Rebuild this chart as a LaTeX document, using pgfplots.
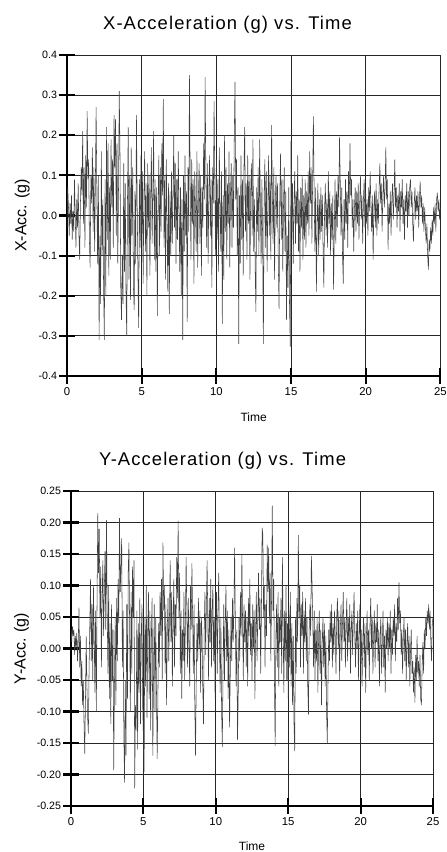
\documentclass[border=0pt]{standalone}
\usepackage{pgfplots}
\pgfplotsset{compat=1.18}
\usepackage{fontspec}
\setmainfont{Liberation Sans}
\pgfplotsset{accstyle/.style={
  scale only axis, axis lines=left,
  axis line style={-, line width=2pt, black},
  tick align=center, major tick length=11.5pt,
  tick style={line width=1.6pt, black},
  grid=major, major grid style={line width=0.6pt, black!85},
  xmin=0, xmax=25, xtick={0,5,10,15,20,25},
  /pgf/number format/assume math mode=true,
  xticklabel style={font=\fontsize{8.5}{10}\selectfont, anchor=north, inner sep=0pt, yshift=-3pt},
  yticklabel style={font=\fontsize{8}{9}\selectfont, anchor=east, inner sep=0pt, xshift=-1.5pt,
    /pgf/number format/fixed, /pgf/number format/fixed zerofill},
  every axis x label/.style={at={(axis description cs:0.5,-0.129)}, anchor=center, font=\fontsize{9}{10}\selectfont},
  xlabel=Time,
}}
\begin{document}
\begin{tikzpicture}
\useasboundingbox (0pt,0pt) rectangle (334.5pt,-639pt);
\node[anchor=base, font=\fontsize{13.8}{16}\selectfont\addfontfeatures{LetterSpace=6}] at (170.6pt,-22pt) {X-Acceleration (g) vs. Time};
\node[anchor=base, font=\fontsize{13.8}{16}\selectfont\addfontfeatures{LetterSpace=6}] at (166.9pt,-349.3pt) {Y-Acceleration (g) vs. Time};
\begin{axis}[accstyle, at={(50.25pt,-282pt)}, anchor=south west,
  width=280pt, height=240.75pt,
  ymin=-0.4, ymax=0.4, ytick={-0.4,-0.3,-0.2,-0.1,0,0.1,0.2,0.3,0.4},
  yticklabel style={/pgf/number format/precision=1},
  every axis y label/.style={at={(axis description cs:-0.12,0.5)}, rotate=90, anchor=center, font=\fontsize{12}{14}\selectfont},
  ylabel={X-Acc. (g)}]
\addplot[black!75, line width=0.4pt] coordinates {
(0,-0.03)(0.05,0.07)(0.1,0.02)(0.15,-0.05)(0.2,0.03)(0.25,-0.02)(0.3,0.05)(0.35,-0.06)(0.4,0.01)(0.45,-0.04)(0.5,0.09)(0.55,0)(0.6,-0.08)(0.65,0.04)(0.7,-0.03)(0.75,0.08)(0.8,-0.05)(0.85,-0.11)(0.9,0.03)(0.95,0.12)
(1,0.05)(1.05,0.21)(1.1,-0.02)(1.15,0.12)(1.2,-0.08)(1.25,0.15)(1.3,0.02)(1.35,0.26)(1.4,0.09)(1.45,0.14)(1.5,-0.06)(1.55,-0.13)(1.6,0.1)(1.65,0.03)(1.7,0.17)(1.75,-0.04)(1.8,0.12)(1.85,-0.09)(1.9,0.08)(1.95,0.27)
(2,0.05)(2.05,-0.12)(2.1,0.1)(2.15,-0.31)(2.2,-0.05)(2.25,-0.22)(2.3,0.16)(2.35,-0.1)(2.4,0.04)(2.45,-0.18)(2.5,-0.31)(2.55,0.09)(2.6,-0.2)(2.65,0.22)(2.7,-0.06)(2.75,0.18)(2.8,-0.15)(2.85,0.07)(2.9,-0.11)(2.95,0.19)
(3,0.02)(3.05,0.14)(3.1,-0.08)(3.15,0.25)(3.2,0.12)(3.25,0.24)(3.3,-0.05)(3.35,0.18)(3.4,-0.12)(3.45,0.07)(3.5,0.31)(3.55,0.15)(3.6,-0.18)(3.65,-0.26)(3.7,-0.1)(3.75,-0.22)(3.8,0.13)(3.85,-0.14)(3.9,0.08)(3.95,-0.19)
(4,-0.3)(4.05,0.04)(4.1,0.22)(4.15,-0.16)(4.2,0.1)(4.25,-0.21)(4.3,0.17)(4.35,-0.05)(4.4,0.12)(4.45,-0.18)(4.5,-0.235)(4.55,0.06)(4.6,-0.12)(4.65,0.25)(4.7,0.03)(4.75,-0.15)(4.8,-0.28)(4.85,0.09)(4.9,-0.08)(4.95,0.15)
(5,-0.06)(5.05,0.11)(5.1,-0.17)(5.15,0.05)(5.2,0.16)(5.25,-0.09)(5.3,0.08)(5.35,-0.2)(5.4,0.13)(5.45,-0.03)(5.5,0.1)(5.55,-0.15)(5.6,0.04)(5.65,0.17)(5.7,-0.07)(5.75,0.06)(5.8,0.21)(5.85,-0.11)(5.9,0.09)(5.95,-0.14)
(6,0.07)(6.05,-0.25)(6.1,0.03)(6.15,0.15)(6.2,-0.1)(6.25,0.12)(6.3,-0.04)(6.35,0.18)(6.4,0.05)(6.45,0.29)(6.5,-0.08)(6.55,0.1)(6.6,-0.16)(6.65,0.14)(6.7,-0.02)(6.75,-0.19)(6.8,0.08)(6.85,-0.245)(6.9,0.06)(6.95,-0.1)
(7,0.11)(7.05,-0.07)(7.1,0.05)(7.15,0.2)(7.2,-0.03)(7.25,0.13)(7.3,-0.12)(7.35,0.09)(7.4,-0.06)(7.45,0.16)(7.5,0.02)(7.55,-0.14)(7.6,0.07)(7.65,-0.2)(7.7,0.04)(7.75,-0.31)(7.8,0.1)(7.85,-0.09)(7.9,0.15)(7.95,-0.05)
(8,0.06)(8.05,-0.265)(8.1,0.12)(8.15,-0.04)(8.2,0.35)(8.25,0.08)(8.3,-0.11)(8.35,0.14)(8.4,-0.02)(8.45,0.09)(8.5,-0.17)(8.55,0.11)(8.6,0.02)(8.65,-0.09)(8.7,0.16)(8.75,-0.13)(8.8,0.05)(8.85,0.13)(8.9,-0.07)(8.95,0.1)
(9,-0.15)(9.05,0.07)(9.1,-0.03)(9.15,0.18)(9.2,0.04)(9.25,0.345)(9.3,0.1)(9.35,-0.08)(9.4,0.13)(9.45,-0.12)(9.5,0.06)(9.55,0.15)(9.6,-0.05)(9.65,0.09)(9.7,-0.18)(9.75,0.12)(9.8,0.03)(9.85,0.285)(9.9,0.07)(9.95,-0.1)
(10,0.14)(10.05,-0.06)(10.1,0.09)(10.15,-0.14)(10.2,0.17)(10.25,0.02)(10.3,-0.09)(10.35,0.11)(10.4,-0.27)(10.45,0.05)(10.5,-0.16)(10.55,0.2)(10.6,-0.04)(10.65,0.12)(10.7,-0.11)(10.75,0.08)(10.8,-0.02)(10.85,0.16)(10.9,-0.13)(10.95,0.06)
(11,0.13)(11.05,-0.08)(11.1,0.1)(11.15,-0.03)(11.2,0.19)(11.25,0.333)(11.3,0.04)(11.35,0.14)(11.4,-0.1)(11.45,0.07)(11.5,-0.32)(11.55,0.05)(11.6,-0.12)(11.65,0.15)(11.7,-0.06)(11.75,0.09)(11.8,-0.15)(11.85,0.12)(11.9,0.22)(11.95,-0.04)
(12,0.08)(12.05,-0.11)(12.1,0.15)(12.15,-0.02)(12.2,0.1)(12.25,-0.16)(12.3,0.06)(12.35,0.13)(12.4,-0.05)(12.45,0.19)(12.5,-0.09)(12.55,0.04)(12.6,-0.13)(12.65,-0.24)(12.7,0.07)(12.75,-0.04)(12.8,0.12)(12.85,-0.1)(12.9,0.19)(12.95,0.02)
(13,-0.12)(13.05,0.09)(13.1,-0.06)(13.15,-0.32)(13.2,0.05)(13.25,0.14)(13.3,-0.08)(13.35,0.11)(13.4,-0.14)(13.45,0.03)(13.5,0.15)(13.55,-0.05)(13.6,0.1)(13.65,-0.11)(13.7,0.225)(13.75,0.06)(13.8,-0.07)(13.85,0.12)(13.9,-0.16)(13.95,0.04)
(14,0.1)(14.05,-0.03)(14.1,0.08)(14.15,-0.12)(14.2,-0.233)(14.25,0.05)(14.3,0.155)(14.35,-0.06)(14.4,0.09)(14.45,-0.14)(14.5,0.03)(14.55,0.12)(14.6,-0.09)(14.65,0.06)(14.7,-0.26)(14.75,-0.05)(14.8,-0.18)(14.85,0.07)(14.9,-0.22)(14.95,-0.327)
(15,0.186)(15.05,-0.04)(15.1,0.08)(15.15,-0.12)(15.2,0.03)(15.25,0.11)(15.3,-0.07)(15.35,0.06)(15.4,-0.02)(15.45,0.15)(15.5,-0.09)(15.55,0.04)(15.6,-0.14)(15.65,0.07)(15.7,-0.03)(15.75,0.1)(15.8,-0.11)(15.85,0.05)(15.9,-0.06)(15.95,0.09)
(16,-0.08)(16.05,0.06)(16.1,-0.02)(16.15,0.11)(16.2,-0.05)(16.25,0.16)(16.3,0.03)(16.35,0.12)(16.4,-0.07)(16.45,0.09)(16.5,0.247)(16.55,0.05)(16.6,-0.09)(16.65,0.07)(16.7,-0.19)(16.75,-0.03)(16.8,0.08)(16.85,-0.1)(16.9,0.04)(16.95,-0.06)
(17,0.07)(17.05,-0.04)(17.1,0.05)(17.15,-0.09)(17.2,-0.18)(17.25,0.02)(17.3,0.08)(17.35,-0.05)(17.4,0.04)(17.45,-0.08)(17.5,0.11)(17.55,-0.02)(17.6,0.06)(17.65,-0.1)(17.7,0.03)(17.75,-0.06)(17.8,0.05)(17.85,-0.185)(17.9,-0.04)(17.95,0.09)
(18,-0.07)(18.05,0.06)(18.1,-0.03)(18.15,0.1)(18.2,0.02)(18.25,0.196)(18.3,0.08)(18.35,-0.05)(18.4,0.07)(18.45,-0.1)(18.5,-0.17)(18.55,0.04)(18.6,-0.06)(18.65,0.09)(18.7,-0.02)(18.75,0.06)(18.8,-0.08)(18.85,0.11)(18.9,0.03)(18.95,0.18)
(19,0.05)(19.05,0.09)(19.1,-0.03)(19.15,0.04)(19.2,-0.09)(19.25,0.02)(19.3,0.07)(19.35,-0.04)(19.4,0.06)(19.45,-0.02)(19.5,0.08)(19.55,-0.06)(19.6,0.03)(19.65,0.1)(19.7,-0.01)(19.75,0.05)(19.8,-0.07)(19.85,0.04)(19.9,0.09)(19.95,-0.03)
(20,0.06)(20.05,-0.02)(20.1,0.04)(20.15,-0.05)(20.2,0.07)(20.25,0.01)(20.3,0.11)(20.35,0.03)(20.4,-0.04)(20.45,0.05)(20.5,-0.11)(20.55,0.02)(20.6,0.06)(20.65,-0.03)(20.7,0.08)(20.75,-0.05)(20.8,0.04)(20.85,-0.02)(20.9,0.07)(20.95,0.13)
(21,0.03)(21.05,0.08)(21.1,-0.04)(21.15,0.05)(21.2,0.1)(21.25,0.02)(21.3,0.07)(21.35,0.17)(21.4,0.04)(21.45,0.09)(21.5,-0.085)(21.55,0.03)(21.6,-0.02)(21.65,0.06)(21.7,-0.05)(21.75,0.04)(21.8,0.08)(21.85,-0.01)(21.9,0.05)(21.95,0.14)
(22,0.02)(22.05,0.07)(22.1,-0.03)(22.15,0.05)(22.2,0.01)(22.25,0.08)(22.3,-0.04)(22.35,0.06)(22.4,0.02)(22.45,0.09)(22.5,-0.02)(22.55,0.04)(22.6,-0.06)(22.65,0.05)(22.7,0.01)(22.75,0.08)(22.8,-0.03)(22.85,0.06)(22.9,0)(22.95,0.07)
(23,0.09)(23.05,0.02)(23.1,0.06)(23.15,-0.02)(23.2,-0.065)(23.25,0.03)(23.3,0.07)(23.35,-0.01)(23.4,0.05)(23.45,0.01)(23.5,0.06)(23.55,-0.03)(23.6,0.04)(23.65,0.085)(23.7,0.02)(23.75,0.05)(23.8,-0.02)(23.85,0.03)(23.9,-0.04)(23.95,0.02)
(24,-0.03)(24.05,-0.07)(24.1,-0.02)(24.15,-0.1)(24.2,-0.135)(24.25,-0.06)(24.3,-0.09)(24.35,-0.03)(24.4,-0.07)(24.45,-0.01)(24.5,-0.05)(24.55,0.02)(24.6,-0.02)(24.65,0.03)(24.7,-0.04)(24.75,0.04)(24.8,0.057)(24.85,0.01)(24.9,0.04)(24.95,-0.01)(25,0.02)
};
\end{axis}
\begin{axis}[accstyle, at={(53.25pt,-604.5pt)}, anchor=south west,
  width=271.5pt, height=236.25pt,
  ymin=-0.25, ymax=0.25, ytick={-0.25,-0.2,-0.15,-0.1,-0.05,0,0.05,0.1,0.15,0.2,0.25},
  yticklabel style={/pgf/number format/precision=2},
  every axis y label/.style={at={(axis description cs:-0.137,0.5)}, rotate=90, anchor=center, font=\fontsize{12}{14}\selectfont},
  ylabel={Y-Acc. (g)}]
\addplot[black!75, line width=0.4pt] coordinates {
(0,0.03)(0.05,0.01)(0.1,0.035)(0.15,0.02)(0.2,0.03)(0.25,-0.01)(0.3,0.02)(0.35,0)(0.4,0.025)(0.45,-0.02)(0.5,0.01)(0.55,0.065)(0.6,-0.03)(0.65,0.02)(0.7,-0.06)(0.75,-0.02)(0.8,-0.09)(0.85,-0.05)(0.9,-0.12)(0.95,-0.167)
(1,-0.08)(1.05,0.02)(1.1,-0.06)(1.15,-0.11)(1.2,-0.135)(1.25,-0.03)(1.3,0.04)(1.35,0.11)(1.4,-0.02)(1.45,0.07)(1.5,-0.05)(1.55,0.1)(1.6,0.02)(1.65,-0.07)(1.7,0.06)(1.75,-0.1)(1.8,0.08)(1.85,0.215)(1.9,0.12)(1.95,0.19)
(2,0.05)(2.05,0.13)(2.1,-0.03)(2.15,0.08)(2.2,0.14)(2.25,0.02)(2.3,0.09)(2.35,0.155)(2.4,0.03)(2.45,0.204)(2.5,0.06)(2.55,-0.04)(2.6,0.1)(2.65,-0.08)(2.7,0.04)(2.75,-0.12)(2.8,0.07)(2.85,-0.05)(2.9,0.03)(2.95,-0.193)
(3,-0.06)(3.05,0.05)(3.1,-0.09)(3.15,0.08)(3.2,-0.02)(3.25,0.11)(3.3,0.04)(3.35,0.207)(3.4,0.09)(3.45,0.13)(3.5,0.175)(3.55,-0.03)(3.6,0.06)(3.65,-0.14)(3.7,-0.213)(3.75,-0.05)(3.8,-0.17)(3.85,0.07)(3.9,-0.08)(3.95,0.12)
(4,0.168)(4.05,0.03)(4.1,-0.1)(4.15,0.09)(4.2,-0.04)(4.25,0.13)(4.3,0.05)(4.35,0.14)(4.4,-0.222)(4.45,-0.09)(4.5,-0.13)(4.55,0.06)(4.6,-0.16)(4.65,0.04)(4.7,-0.07)(4.75,0.08)(4.8,-0.12)(4.85,0.02)(4.9,0.07)(4.95,-0.09)
(5,-0.14)(5.05,-0.196)(5.1,0.05)(5.15,-0.06)(5.2,0.1)(5.25,-0.11)(5.3,0.03)(5.35,0.09)(5.4,-0.08)(5.45,0.06)(5.5,-0.13)(5.55,0.02)(5.6,0.08)(5.65,-0.17)(5.7,-0.04)(5.75,0.07)(5.8,-0.1)(5.85,0.05)(5.9,-0.06)(5.95,-0.175)
(6,-0.08)(6.05,0.04)(6.1,-0.03)(6.15,0.09)(6.2,0.02)(6.25,0.11)(6.3,-0.05)(6.35,0.168)(6.4,0.06)(6.45,0.1)(6.5,-0.04)(6.55,0.07)(6.6,-0.09)(6.65,0.03)(6.7,0.08)(6.75,-0.02)(6.8,0.05)(6.85,0.14)(6.9,0.01)(6.95,0.09)
(7,-0.06)(7.05,0.04)(7.1,0.11)(7.15,-0.03)(7.2,0.07)(7.25,0.02)(7.3,0.145)(7.35,0.08)(7.4,0.203)(7.45,0.05)(7.5,0.12)(7.55,-0.04)(7.6,0.06)(7.65,-0.08)(7.7,0.03)(7.75,-0.02)(7.8,0.09)(7.85,-0.05)(7.9,0.04)(7.95,0.145)
(8,0.06)(8.05,-0.03)(8.1,0.08)(8.15,0.01)(8.2,-0.06)(8.25,0.1)(8.3,0.03)(8.35,0.135)(8.4,0.05)(8.45,-0.04)(8.5,0.07)(8.55,-0.09)(8.6,-0.17)(8.65,-0.05)(8.7,0.04)(8.75,-0.02)(8.8,0.08)(8.85,0)(8.9,0.06)(8.95,-0.07)
(9,0.05)(9.05,0.02)(9.1,-0.06)(9.15,-0.12)(9.2,0.03)(9.25,0.09)(9.3,-0.01)(9.35,0.07)(9.4,0.14)(9.45,0.04)(9.5,-0.05)(9.55,0.08)(9.6,0.01)(9.65,0.11)(9.7,-0.03)(9.75,0.06)(9.8,0.1)(9.85,-0.02)(9.9,0.05)(9.95,-0.08)
(10,0.03)(10.05,0.09)(10.1,-0.04)(10.15,0.06)(10.2,0.12)(10.25,0.02)(10.3,-0.07)(10.35,0.05)(10.4,-0.1)(10.45,-0.156)(10.5,-0.03)(10.55,0.07)(10.6,-0.05)(10.65,0.04)(10.7,0.1)(10.75,-0.02)(10.8,0.06)(10.85,-0.08)(10.9,0.03)(10.95,-0.125)
(11,-0.04)(11.05,0.05)(11.1,-0.02)(11.15,0.08)(11.2,0.01)(11.25,0.06)(11.3,0.16)(11.35,0.04)(11.4,-0.06)(11.45,0.03)(11.5,-0.145)(11.55,-0.07)(11.6,0.05)(11.65,-0.02)(11.7,0.09)(11.75,0.02)(11.8,0.15)(11.85,0.04)(11.9,-0.05)(11.95,0.07)
(12,0.01)(12.05,0.06)(12.1,-0.03)(12.15,0.05)(12.2,-0.06)(12.25,0.08)(12.3,0.02)(12.35,0.11)(12.4,-0.01)(12.45,0.04)(12.5,-0.05)(12.55,0.07)(12.6,0)(12.65,0.06)(12.7,-0.08)(12.75,0.03)(12.8,0.09)(12.85,-0.02)(12.9,0.05)(12.95,0.12)
(13,0.03)(13.05,0.08)(13.1,-0.04)(13.15,0.06)(13.2,0.192)(13.25,0.18)(13.3,0.05)(13.35,0.1)(13.4,-0.03)(13.45,0.07)(13.5,0.02)(13.55,0.165)(13.6,0.09)(13.65,0.16)(13.7,0.04)(13.75,0.12)(13.8,-0.02)(13.85,0.08)(13.9,0.227)(13.95,0.06)
(14,0.11)(14.05,-0.05)(14.1,-0.155)(14.15,0.02)(14.2,0.07)(14.25,-0.03)(14.3,0.09)(14.35,-0.06)(14.4,0.05)(14.45,0.01)(14.5,0.08)(14.55,-0.04)(14.6,0.145)(14.65,0.03)(14.7,-0.07)(14.75,0.06)(14.8,-0.02)(14.85,0.1)(14.9,-0.05)(14.95,0.04)
(15,-0.08)(15.05,0.06)(15.1,-0.03)(15.15,0.09)(15.2,-0.06)(15.25,0.04)(15.3,-0.09)(15.35,0.02)(15.4,-0.12)(15.45,-0.163)(15.5,0.05)(15.55,-0.04)(15.6,0.08)(15.65,0.01)(15.7,0.18)(15.75,0.05)(15.8,0.1)(15.85,-0.03)(15.9,0.07)(15.95,0.02)
(16,0.09)(16.05,-0.04)(16.1,0.06)(16.15,0.01)(16.2,0.08)(16.25,-0.02)(16.3,0.05)(16.35,-0.06)(16.4,-0.105)(16.45,0.03)(16.5,0.07)(16.55,0.02)(16.6,0.147)(16.65,0.1)(16.7,0.04)(16.75,-0.03)(16.8,0.06)(16.85,-0.05)(16.9,0.03)(16.95,-0.02)
(17,0.05)(17.05,-0.07)(17.1,0.02)(17.15,0.06)(17.2,-0.04)(17.25,0.03)(17.3,-0.09)(17.35,0.01)(17.4,0.05)(17.45,-0.03)(17.5,0.04)(17.55,-0.06)(17.6,0.02)(17.65,-0.1)(17.7,-0.15)(17.75,-0.05)(17.8,0.03)(17.85,-0.02)(17.9,0.06)(17.95,0.01)
(18,0.07)(18.05,-0.03)(18.1,0.04)(18.15,-0.01)(18.2,0.06)(18.25,0.02)(18.3,-0.04)(18.35,0.05)(18.4,0.08)(18.45,0)(18.5,0.06)(18.55,-0.05)(18.6,0.03)(18.65,0.07)(18.7,-0.02)(18.75,0.04)(18.8,0.09)(18.85,0.01)(18.9,0.05)(18.95,-0.03)
(19,0.04)(19.05,0.08)(19.1,-0.02)(19.15,0.05)(19.2,0.01)(19.25,0.07)(19.3,-0.04)(19.35,0.03)(19.4,0.06)(19.45,-0.01)(19.5,0.05)(19.55,0.09)(19.6,0.02)(19.65,-0.03)(19.7,0.04)(19.75,0)(19.8,0.06)(19.85,-0.05)(19.9,0.02)(19.95,0.07)
(20,-0.02)(20.05,0.03)(20.1,-0.06)(20.15,0.01)(20.2,0.05)(20.25,-0.03)(20.3,0.04)(20.35,-0.07)(20.4,0.02)(20.45,0.06)(20.5,-0.01)(20.55,0.03)(20.6,-0.05)(20.65,0.04)(20.7,0.08)(20.75,0)(20.8,0.05)(20.85,-0.04)(20.9,0.02)(20.95,0.06)
(21,-0.03)(21.05,0.04)(21.1,0.01)(21.15,0.07)(21.2,-0.02)(21.25,0.03)(21.3,-0.06)(21.35,0.02)(21.4,0.05)(21.45,-0.04)(21.5,0.01)(21.55,0.06)(21.6,-0.03)(21.65,0.02)(21.7,-0.07)(21.75,0.03)(21.8,0)(21.85,0.05)(21.9,-0.02)(21.95,0.04)
(22,0)(22.05,0.06)(22.1,-0.04)(22.15,0.03)(22.2,-0.01)(22.25,0.05)(22.3,0.02)(22.35,0.07)(22.4,-0.02)(22.45,0.04)(22.5,0.01)(22.55,0.08)(22.6,0.03)(22.65,0.105)(22.7,0.04)(22.75,0.06)(22.8,-0.01)(22.85,0.03)(22.9,-0.04)(22.95,0.02)
(23,0.05)(23.05,-0.02)(23.1,0.03)(23.15,-0.05)(23.2,0.01)(23.25,0.04)(23.3,-0.03)(23.35,0.02)(23.4,-0.06)(23.45,0)(23.5,0.03)(23.55,-0.04)(23.6,-0.02)(23.65,-0.07)(23.7,-0.03)(23.75,-0.086)(23.8,-0.01)(23.85,-0.05)(23.9,0.02)(23.95,-0.04)
(24,-0.02)(24.05,-0.06)(24.1,-0.01)(24.15,-0.08)(24.2,-0.09)(24.25,-0.03)(24.3,0.01)(24.35,-0.04)(24.4,0.03)(24.45,0)(24.5,0.05)(24.55,0.02)(24.6,0.06)(24.65,0.04)(24.7,0.07)(24.75,0.03)(24.8,0.06)(24.85,0.01)(24.9,-0.02)(24.95,0.04)(25,0.05)
};
\end{axis}
\end{tikzpicture}
\end{document}
